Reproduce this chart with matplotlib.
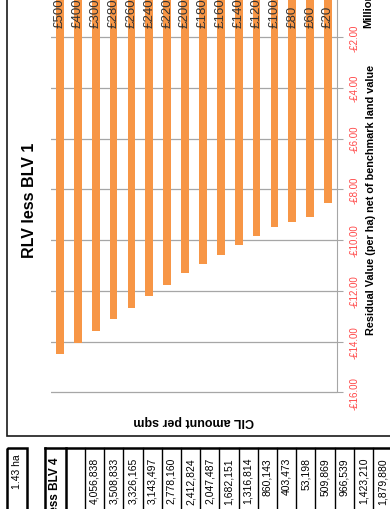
import matplotlib.pyplot as plt
import numpy as np
from matplotlib.patches import Rectangle
from matplotlib.ticker import FuncFormatter

# CIL rates (per sqm) and residual value less BLV 1 (millions, per ha)
cil_labels = ['£500', '£400', '£300', '£280', '£260', '£240', '£220', '£200',
              '£180', '£160', '£140', '£120', '£100', '£80', '£60', '£20']
rlv_less_blv = [-14.48, -14.06, -13.57, -13.11, -12.66, -12.20, -11.77, -11.29,
                -10.94, -10.58, -10.19, -9.83, -9.47, -9.28, -9.08, -8.53]

# part of the table under the chart (RLV less BLV 4)
table_values = ['4,056,838', '3,508,833', '3,326,165', '3,143,497', '2,778,160',
                '2,412,824', '2,047,487', '1,682,151', '1,316,814', '860,143',
                '403,473', '53,198', '509,869', '966,539', '1,423,210', '1,879,880']
site_area = '1.43 ha'

NARROW = ['Liberation Sans Narrow', 'Liberation Sans', 'DejaVu Sans']
plt.rcParams['font.family'] = NARROW

W, H = 390, 510
fig = plt.figure(figsize=(W / 100, H / 100), dpi=100)

# page layer in pixel coordinates
page = fig.add_axes([0, 0, 1, 1])
page.set_xlim(0, W)
page.set_ylim(H, 0)
page.axis('off')

# chart frame
page.add_patch(Rectangle((7, -20), 420, 457, fill=False, ec='#1a1a1a', lw=1.2))

# table below
page.add_patch(Rectangle((7, 449), 20, 80, fill=False, ec='black', lw=1.8))
page.text(17, 454, site_area, rotation=90, ha='center', va='top', fontsize=7.5,
          family='Liberation Sans')
page.plot([45, 400], [449, 449], color='black', lw=1.8)
col_x = [45, 66] + [85 + 19.2 * i for i in range(17)]
for i, cx in enumerate(col_x):
    page.plot([cx, cx], [449, 520], color='black', lw=1.8 if i < 2 else 1.0)
page.text(55.5, 458, 'RLV less BLV 4', rotation=90, ha='center', va='top',
          fontsize=8.5, fontweight='bold', family='Liberation Sans')
for i, val in enumerate(table_values):
    page.text(85 + 19.2 * (i + 0.5), 458, val, rotation=90, ha='center', va='top',
              fontsize=7.5, family='Liberation Sans')

# the chart itself
ax = fig.add_axes([51 / W, (H - 395.8) / H, 286 / W, 408.5 / H])
ax.patch.set_alpha(0)
x = np.arange(len(cil_labels))
ax.bar(x, rlv_less_blv, width=0.43, color='#F79646', zorder=2)
ax.set_xlim(-0.5, len(cil_labels) - 0.5)
ax.set_ylim(-16.1, 0)
ax.set_yticks(np.arange(-16, 0.1, 2))
ax.yaxis.grid(True, color='#A6A6A6', lw=0.9, zorder=0)
ax.set_axisbelow(True)
ax.set_xticks([])
for s in ['left', 'top', 'bottom']:
    ax.spines[s].set_visible(False)
ax.spines['right'].set_color('#A6A6A6')
ax.spines['right'].set_bounds(-16, 0)
ax.yaxis.tick_right()
ax.yaxis.set_major_formatter(FuncFormatter(
    lambda v, p: ('-£%.2f' % abs(v)) if v < 0 else '£%.2f' % v))
ax.tick_params(axis='y', direction='out', length=4, color='#A6A6A6',
               labelcolor='#FF4747', labelsize=7, pad=5, labelrotation=90)
for lab in ax.get_yticklabels():
    lab.set_va('center')

for xi, lbl in zip(x, cil_labels):
    ax.annotate(lbl, (xi, 0), xytext=(0, -29), textcoords='offset points',
                rotation=90, ha='center', va='bottom', fontsize=9.5,
                color='#333333', family='Liberation Sans')

fig.text(29 / W, (H - 200) / H, 'RLV less BLV 1', rotation=90, ha='center',
         va='center', fontsize=11.5, fontweight='bold')
fig.text(371 / W, (H - 200) / H, 'Residual Value (per ha) net of benchmark land value',
         rotation=90, ha='center', va='center', fontsize=7.8, fontweight='bold')
fig.text(368 / W, (H - 28) / H, 'Millions', rotation=90, ha='center',
         va='bottom', fontsize=8, fontweight='bold')
fig.text(194 / W, (H - 421) / H, 'CIL amount per sqm', rotation=180, ha='center',
         va='center', fontsize=9, fontweight='bold')

fig.savefig('out.png', dpi=100)
